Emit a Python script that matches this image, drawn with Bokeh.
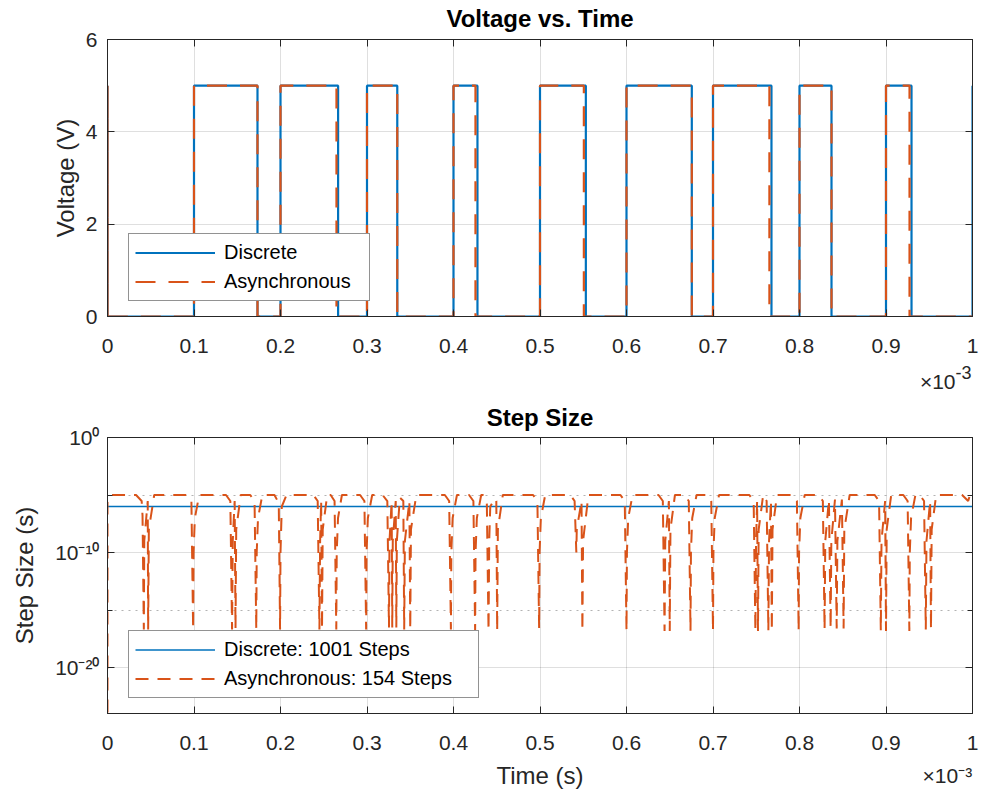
from bokeh.plotting import figure
from bokeh.models import (Range1d, LinearAxis, LogAxis, FixedTicker, Legend, LegendItem,
                          Label, CustomJSTickFormatter)
from bokeh.core.properties import value
from bokeh.layouts import column
from bokeh.embed import file_html
from bokeh.resources import INLINE

FONT = "Liberation Sans"
AX = "#262626"
BLUE = "#0072BD"
ORANGE = "#D95319"

# ---------------- data: Voltage vs. Time (time in units of 1e-3 s) ----------------
pulse_rise = [0.0, 0.1, 0.2, 0.3, 0.4, 0.5, 0.6, 0.7, 0.8, 0.9]
discrete_fall = [0.0, 0.1734, 0.2666, 0.3350, 0.4277, 0.5530, 0.6755, 0.7676, 0.8370, 0.9295]
async_fall = [0.0, 0.1734, 0.2647, 0.3350, 0.4254, 0.5507, 0.6755, 0.7652, 0.8370, 0.9272]
v_high = 5.0
t_end = 1.0
discrete_end_level = 5.0
async_end_level = 0.0
volt_ticks = [0, 2, 4, 6]
time_ticks = [0.0, 0.1, 0.2, 0.3, 0.4, 0.5, 0.6, 0.7, 0.8, 0.9, 1.0]
time_tick_labels = ["0", "0.1", "0.2", "0.3", "0.4", "0.5", "0.6", "0.7", "0.8", "0.9", "1"]
legend_top = ["Discrete", "Asynchronous"]

# ---------------- data: Step Size ----------------
discrete_step_t = [0.0, 1.0]
discrete_step_h = [1e-6, 1e-6]
async_step_t = [
    0.0000, 0.0000, 0.0030,
    0.0330, 0.0395, 0.0405, 0.0420, 0.0425, 0.0465, 0.0470, 0.0478, 0.0540,
    0.0920, 0.0970, 0.0990, 0.0995, 0.1010, 0.1060,
    0.1370, 0.1420, 0.1440, 0.1448, 0.1470, 0.1480, 0.1488, 0.1540,
    0.1650, 0.1700, 0.1720, 0.1725, 0.1740, 0.1790,
    0.1930, 0.1980, 0.1995, 0.2000, 0.2015, 0.2070,
    0.2380, 0.2430, 0.2450, 0.2458, 0.2470, 0.2480, 0.2488, 0.2540,
    0.2580, 0.2625, 0.2645, 0.2650, 0.2665, 0.2710,
    0.2920, 0.2970, 0.2990, 0.2995, 0.3010, 0.3060,
    0.3180, 0.3235, 0.3254, 0.3260, 0.3285, 0.3292, 0.3298, 0.3332, 0.3339, 0.3345,
    0.3380, 0.3420, 0.3430, 0.3438, 0.3490, 0.3500, 0.3508, 0.3570,
    0.3900, 0.3950, 0.3970, 0.3975, 0.3990, 0.4040,
    0.4180, 0.4230, 0.4250, 0.4255, 0.4270, 0.4320,
    0.4340, 0.4385, 0.4405, 0.4413, 0.4425, 0.4480, 0.4495, 0.4505, 0.4513, 0.4570,
    0.4920, 0.4970, 0.4990, 0.4995, 0.5010, 0.5060,
    0.5350, 0.5400, 0.5420, 0.5425, 0.5480, 0.5490, 0.5498, 0.5560,
    0.5930, 0.5980, 0.6000, 0.6005, 0.6020, 0.6070,
    0.6370, 0.6420, 0.6440, 0.6448, 0.6490, 0.6500, 0.6508, 0.6560,
    0.6670, 0.6720, 0.6740, 0.6745, 0.6760, 0.6810,
    0.6930, 0.6980, 0.7000, 0.7005, 0.7020, 0.7070,
    0.7420, 0.7470, 0.7490, 0.7498, 0.7510, 0.7520, 0.7528, 0.7580,
    0.7620, 0.7640, 0.7648, 0.7670, 0.7680, 0.7688, 0.7740,
    0.7920, 0.7970, 0.7990, 0.7995, 0.8010, 0.8060,
    0.8220, 0.8270, 0.8290, 0.8298, 0.8340, 0.8360, 0.8368, 0.8410, 0.8430, 0.8438,
    0.8490, 0.8510, 0.8518, 0.8580,
    0.8870, 0.8920, 0.8940, 0.8948, 0.8990, 0.9000, 0.9008, 0.9060,
    0.9200, 0.9250, 0.9270, 0.9275, 0.9290, 0.9340,
    0.9390, 0.9440, 0.9460, 0.9468, 0.9510, 0.9520, 0.9528, 0.9580,
    0.9880, 0.9950, 0.9970, 1.0000,
]
async_step_h = [
    1.2e-24, 2.5e-6, 1e-5,
    1e-5, 3e-6, 1.6e-7, 2e-17, 1e-9, 3e-6, 2e-17, 1e-8, 1e-5,
    1e-5, 3e-6, 2e-17, 1e-10, 1e-7, 1e-5,
    1e-5, 3e-6, 2e-17, 1e-9, 3e-6, 2.5e-17, 1e-8, 1e-5,
    1e-5, 3e-6, 2e-17, 1e-10, 1e-7, 1e-5,
    1e-5, 2e-6, 2e-17, 1e-10, 1e-6, 1e-5,
    1e-5, 3e-6, 2e-17, 1e-9, 3e-6, 2e-17, 1e-8, 1e-5,
    1e-5, 3e-6, 2e-17, 1e-10, 1e-7, 1e-5,
    1e-5, 3e-6, 2e-17, 1e-10, 1e-7, 1e-5,
    1e-5, 3e-6, 3e-17, 1e-9, 3e-6, 3e-17, 1e-9, 3e-6, 3e-17, 1e-9,
    6e-6, 3e-6, 2e-17, 1e-9, 3e-6, 2e-17, 1e-8, 1e-5,
    1e-5, 3e-6, 2e-17, 1e-10, 1e-7, 1e-5,
    1e-5, 3e-6, 1.5e-17, 1e-10, 1e-7, 1e-5,
    1e-5, 3e-6, 1.5e-17, 1e-9, 1e-6, 5e-6, 3e-6, 1.5e-17, 1e-8, 1e-5,
    1e-5, 3e-6, 2.5e-17, 1e-10, 1e-7, 1e-5,
    1e-5, 3e-6, 1e-10, 1e-8, 3e-6, 1.5e-17, 1e-9, 1e-5,
    1e-5, 3e-6, 1.5e-17, 1e-10, 1e-7, 1e-5,
    1e-5, 3e-6, 1.5e-17, 1e-9, 3e-6, 1.5e-17, 1e-8, 1e-5,
    1e-5, 3e-6, 1.5e-17, 1e-10, 1e-7, 1e-5,
    1e-5, 3e-6, 1.5e-17, 1e-10, 1e-7, 1e-5,
    1e-5, 3e-6, 1.5e-17, 1e-9, 3e-6, 1.5e-17, 1e-8, 1e-5,
    3e-6, 1.5e-17, 1e-9, 3e-6, 1.5e-17, 1e-8, 1e-5,
    1e-5, 3e-6, 1.5e-17, 1e-10, 1e-7, 1e-5,
    1e-5, 3e-6, 2e-17, 1e-9, 4e-6, 2.5e-17, 1e-9, 4e-6, 2.5e-17, 1e-9,
    4e-6, 2.5e-17, 1e-8, 1e-5,
    1e-5, 3e-6, 1.5e-17, 1e-9, 3e-6, 1.5e-17, 1e-8, 1e-5,
    1e-5, 3e-6, 1.5e-17, 1e-10, 1e-7, 1e-5,
    1e-5, 3e-6, 2e-17, 1e-9, 3e-6, 2e-17, 1e-8, 1e-5,
    1e-5, 3e-6, 1e-5, 1e-5,
]
step_ticks = [1e-20, 1e-10, 1e0]
step_tick_labels = ["10\u207b\u00b2\u2070", "10\u207b\u00b9\u2070", "10\u2070"]
step_minor_ticks = [1e-15, 1e-5]
legend_bottom = ["Discrete: 1001 Steps", "Asynchronous: 154 Steps"]
time_exponent = "-3"
time_multiplier = "\u00d710\u207b\u00b3"


def step_path(rises, falls, high, end_t, end_level):
    xs, ys = [], []
    for r, f in zip(rises, falls):
        xs += [r, r, f, f]
        ys += [0.0, high, high, 0.0]
    xs += [end_t, end_t]
    ys += [0.0, end_level]
    return xs, ys


def label_formatter(vals, labels):
    return CustomJSTickFormatter(args=dict(vals=vals, labels=labels), code="""
        let b = 0;
        for (let i = 0; i < vals.length; i++) {
            if (Math.abs(vals[i] - tick) < Math.abs(vals[b] - tick)) { b = i; }
        }
        return labels[b];
    """)


def empty_formatter():
    return CustomJSTickFormatter(code="return '';")


def style_axis(ax, ticker, formatter, standoff):
    ax.ticker = ticker
    ax.formatter = formatter
    ax.axis_line_color = AX
    ax.axis_line_width = 1
    ax.major_tick_line_color = AX
    ax.major_tick_line_width = 1
    ax.major_tick_in = 7
    ax.major_tick_out = 0
    ax.minor_tick_line_color = AX
    ax.minor_tick_in = 5
    ax.minor_tick_out = 0
    ax.major_label_text_font = FONT
    ax.major_label_text_font_size = "21px"
    ax.major_label_text_color = AX
    ax.major_label_standoff = standoff
    ax.axis_label_text_font = FONT
    ax.axis_label_text_font_size = "24px"
    ax.axis_label_text_font_style = "normal"
    ax.axis_label_text_color = AX


def add_box_axes(p, xticker, yticker, ylog=False):
    top = LinearAxis()
    style_axis(top, xticker, empty_formatter(), 0)
    top.major_label_text_font_size = "0px"
    p.add_layout(top, "above")
    right = LogAxis() if ylog else LinearAxis()
    style_axis(right, yticker, empty_formatter(), 0)
    right.major_label_text_font_size = "0px"
    p.add_layout(right, "right")


def add_exponent_label(p, y_bottom, text_exp):
    # "x10^-3" multiplier under the right end of the time axis (side panel => not clipped)
    w_exp = sum(6.0 if c == "-" else 10.0 for c in text_exp)
    p.add_layout(Label(x=1.0, y=y_bottom, x_units="data", y_units="data",
                       x_offset=-w_exp - 1, y_offset=-65,
                       text="\u00d710", text_align="right", text_baseline="alphabetic",
                       text_font=FONT, text_font_size="21px", text_color=AX), "below")
    p.add_layout(Label(x=1.0, y=y_bottom, x_units="data", y_units="data",
                       x_offset=-1, y_offset=-56,
                       text=text_exp, text_align="right", text_baseline="alphabetic",
                       text_font=FONT, text_font_size="18px", text_color=AX), "below")


def add_title(p, x_mid, y_top, text, offset):
    p.add_layout(Label(x=x_mid, y=y_top, x_units="data", y_units="data", y_offset=offset,
                       text=text, text_align="center", text_baseline="alphabetic",
                       text_font=FONT, text_font_size="24px", text_font_style="bold",
                       text_color="#000000"), "above")


def make_legend(items, label_width):
    return Legend(items=items, location=(21, 15), orientation="vertical", margin=0,
                  padding=6, spacing=4, glyph_width=80, glyph_height=25, label_height=25,
                  label_width=label_width, label_standoff=9,
                  border_line_color=AX, border_line_width=1,
                  background_fill_color="white", background_fill_alpha=1.0,
                  label_text_font=FONT, label_text_font_size="20px", label_text_color="#000000")


# ================= Top: Voltage vs. Time =================
p1 = figure(width=985, height=403, x_range=Range1d(0, 1), y_range=Range1d(0, 6),
            output_backend="svg", toolbar_location=None,
            min_border_left=107, min_border_right=13, min_border_top=39, min_border_bottom=87,
            background_fill_color="white", border_fill_color="white",
            outline_line_color=AX, outline_line_width=1)
xt1 = FixedTicker(ticks=time_ticks)
yt1 = FixedTicker(ticks=volt_ticks)
style_axis(p1.xaxis[0], xt1, label_formatter(time_ticks, time_tick_labels), 22)
style_axis(p1.yaxis[0], yt1, label_formatter(volt_ticks, [str(v) for v in volt_ticks]), 10)
p1.yaxis[0].axis_label = "Voltage (V)"
p1.yaxis[0].axis_label_standoff = 4
add_box_axes(p1, xt1, yt1)
p1.xgrid.ticker = xt1
p1.ygrid.ticker = yt1
for g in (p1.xgrid, p1.ygrid):
    g.grid_line_color = AX
    g.grid_line_alpha = 0.15
    g.grid_line_width = 1

dx, dy = step_path(pulse_rise, discrete_fall, v_high, t_end, discrete_end_level)
ax_, ay_ = step_path(pulse_rise, async_fall, v_high, t_end, async_end_level)
r1d = p1.line(dx, dy, line_color=BLUE, line_width=2.2)
r1a = p1.line(ax_, ay_, line_color=ORANGE, line_width=2.2, line_dash="20 13")

p1.add_layout(make_legend([LegendItem(label=value(legend_top[0]), renderers=[r1d]),
                           LegendItem(label=value(legend_top[1]), renderers=[r1a])], 139))
add_title(p1, 0.5, 6.0, "Voltage vs. Time", 21)
add_exponent_label(p1, 0.0, time_exponent)

# ================= Bottom: Step Size =================
p2 = figure(width=985, height=392, x_range=Range1d(0, 1), y_range=Range1d(1e-24, 1),
            y_axis_type="log", output_backend="svg", toolbar_location=None,
            min_border_left=107, min_border_right=13, min_border_top=34, min_border_bottom=82,
            background_fill_color="white", border_fill_color="white",
            outline_line_color=AX, outline_line_width=1)
xt2 = FixedTicker(ticks=time_ticks)
yt2 = FixedTicker(ticks=step_ticks, minor_ticks=step_minor_ticks)
style_axis(p2.xaxis[0], xt2, label_formatter(time_ticks, time_tick_labels), 22)
style_axis(p2.yaxis[0], yt2, label_formatter(step_ticks, step_tick_labels), 8)
p2.yaxis[0].axis_label = "Step Size (s)"
p2.yaxis[0].axis_label_standoff = 14
add_box_axes(p2, xt2, yt2, ylog=True)

# second (line-less) time axis carrying the x10^-3 multiplier and the "Time (s)" label
multiplier_x = 0.971
mult_axis = LinearAxis(ticker=FixedTicker(ticks=[multiplier_x]),
                       formatter=label_formatter([multiplier_x], [time_multiplier]),
                       axis_line_color=None, major_tick_line_color=None, minor_tick_line_color=None,
                       major_tick_in=0, major_tick_out=0, minor_tick_in=0, minor_tick_out=0,
                       major_label_standoff=11, major_label_text_font=FONT,
                       major_label_text_font_size="21px", major_label_text_color=AX,
                       axis_label="Time (s)", axis_label_standoff=-28,
                       axis_label_text_font=FONT, axis_label_text_font_size="24px",
                       axis_label_text_font_style="normal", axis_label_text_color=AX)
p2.add_layout(mult_axis, "below")

p2.xgrid.ticker = xt2
p2.ygrid.ticker = yt2
for g in (p2.xgrid, p2.ygrid):
    g.grid_line_color = AX
    g.grid_line_alpha = 0.15
    g.grid_line_width = 1
p2.ygrid.minor_grid_line_color = AX
p2.ygrid.minor_grid_line_alpha = 0.35
p2.ygrid.minor_grid_line_dash = "2 5"

r2d = p2.line(discrete_step_t, discrete_step_h, line_color=BLUE, line_width=1.5)
r2a = p2.line(async_step_t, async_step_h, line_color=ORANGE, line_width=2, line_dash="13 9")

p2.add_layout(make_legend([LegendItem(label=value(legend_bottom[0]), renderers=[r2d]),
                           LegendItem(label=value(legend_bottom[1]), renderers=[r2a])], 248))
add_title(p2, 0.5, 1.0, "Step Size", 20)

layout = column(p1, p2, spacing=0)
open("out.html", "w").write(file_html(layout, INLINE))
